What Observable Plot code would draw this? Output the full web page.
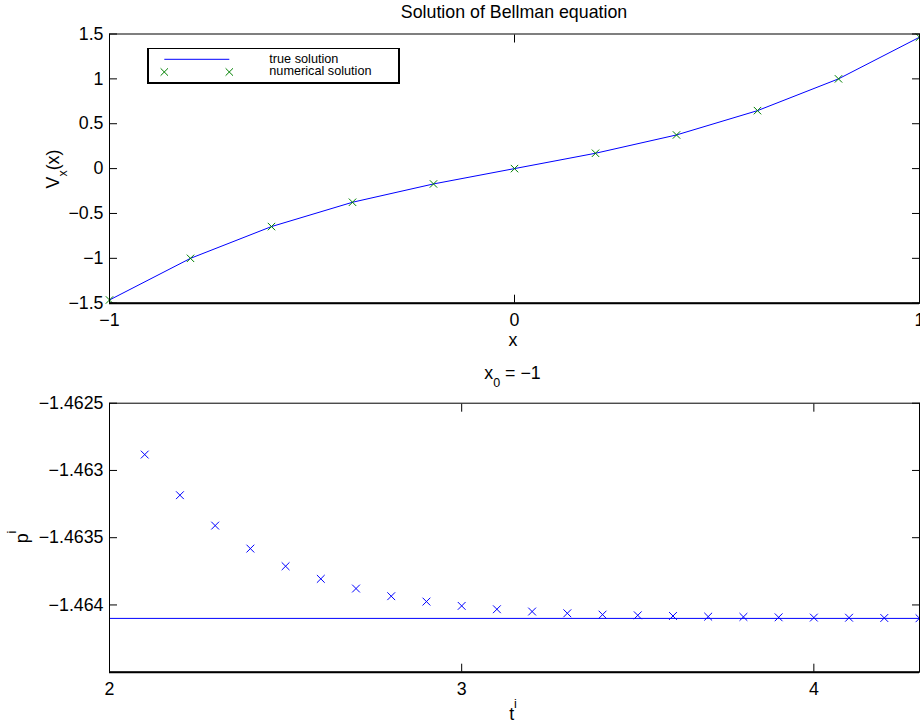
<!DOCTYPE html>
<html>
<head>
<meta charset="utf-8">
<script src="https://cdn.jsdelivr.net/npm/d3@7"></script>
<script src="https://cdn.jsdelivr.net/npm/@observablehq/plot@0.6"></script>
<style>
  body { margin: 0; background: #fff; }
  #wrap { position: relative; width: 920px; height: 723px; overflow: hidden; background: #fff;
          font-family: "Liberation Sans", Arial, Helvetica, sans-serif; color: #000; }
  .lbl { position: absolute; white-space: nowrap; line-height: 1; font-size: 17.8px; }
  .hc { transform: translateX(-50%); }
  .rot { transform: translate(-50%, -50%) rotate(-90deg); }
  .sub { font-size: 12.5px; position: relative; top: 8.3px; }
  .sup { font-size: 12.5px; position: relative; top: -11.7px; }
  .leg { position: absolute; left: 147px; top: 48px; width: 249px; height: 33px; background: #fff;
         border-top: 1px solid #000; border-right: 2px solid #000; border-left: 2px solid #000; border-bottom: 2px solid #000; box-sizing: content-box; }
  .legtxt { position: absolute; white-space: nowrap; line-height: 12px; font-size: 12.7px; }
</style>
</head>
<body>
<div id="wrap">
  <div class="lbl hc" style="left:514px; top:4.4px;">Solution of Bellman equation</div>
  <div class="lbl hc" style="left:513px; top:331.6px;">x</div>
  <div class="lbl rot" style="left:53.8px; top:169px;">V<span class="sub">x</span>(x)</div>
  <div class="lbl hc" style="left:512.5px; top:364.9px;">x<span class="sub">0</span> = −1</div>
  <div class="lbl hc" style="left:513px; top:706.5px; line-height:14px;">t<span class="sup">i</span></div>
  <div class="lbl rot" style="left:23.4px; top:537px;">p<span class="sup">i</span></div>
</div>
<script>
// ---------- data ----------
const xGrid = [-1, -0.8, -0.6, -0.4, -0.2, 0, 0.2, 0.4, 0.6, 0.8, 1];
const vTrue = [-1.4641, -1.0, -0.646, -0.375, -0.171, 0, 0.171, 0.375, 0.646, 1.0, 1.4641];
const vNumerical = [-1.4641, -1.0, -0.646, -0.375, -0.171, 0, 0.171, 0.375, 0.646, 1.0, 1.4641];

const tIter = [2.1, 2.2, 2.3, 2.4, 2.5, 2.6, 2.7, 2.8, 2.9, 3.0, 3.1, 3.2,
               3.3, 3.4, 3.5, 3.6, 3.7, 3.8, 3.9, 4.0, 4.1, 4.2, 4.3];
const pIter = [-1.462882, -1.463184, -1.463410, -1.463581, -1.463712, -1.463806,
               -1.463878, -1.463935, -1.463975, -1.464007, -1.464032, -1.464049,
               -1.464062, -1.464072, -1.464077, -1.464082, -1.464087, -1.464089,
               -1.464092, -1.464094, -1.464095, -1.464097, -1.464099];
const pTrue = -1.4641;

const xTopTicks = [-1, 0, 1];
const xTopTickLabels = ["−1", "0", "1"];
const yTopTicks = [-1.5, -1, -0.5, 0, 0.5, 1, 1.5];
const yTopTickLabels = ["−1.5", "−1", "−0.5", "0", "0.5", "1", "1.5"];
const xBotTicks = [2, 3, 4];
const xBotTickLabels = ["2", "3", "4"];
const yBotTicks = [-1.4625, -1.463, -1.4635, -1.464];
const yBotTickLabels = ["−1.4625", "−1.463", "−1.4635", "−1.464"];

const legendLabels = ["true solution", "numerical solution"];

// ---------- helpers ----------
const BLUE = "#0000ff", GREEN = "#008000";
const cross = {
  draw(ctx, size) {
    const r = Math.sqrt(size / Math.PI);
    ctx.moveTo(-r, -r); ctx.lineTo(r, r);
    ctx.moveTo(-r, r); ctx.lineTo(r, -r);
  }
};
const fmt = (ticks, labels) => { const m = new Map(ticks.map((t, i) => [t, labels[i]])); return d => m.get(d); };
const blank = () => "";

function frameAxes(xTicks, xLabels, yTicks, yLabels, yMin) {
  return [
    Plot.frame({stroke: "black", strokeWidth: 1}),
    Plot.ruleY([yMin], {stroke: "black", strokeWidth: 2}),
    Plot.axisX({anchor: "bottom", ticks: xTicks, tickSize: 8, dy: -8, tickFormat: blank, label: null}),
    Plot.axisX({anchor: "top", ticks: xTicks, tickSize: 8, dy: 8, tickFormat: blank, label: null}),
    Plot.axisY({anchor: "left", ticks: yTicks, tickSize: 8, dx: 8, tickFormat: blank, label: null}),
    Plot.axisY({anchor: "right", ticks: yTicks, tickSize: 8, dx: -8, tickFormat: blank, label: null}),
    Plot.axisX({anchor: "bottom", ticks: xTicks, tickSize: 0, tickPadding: 10, tickFormat: fmt(xTicks, xLabels), label: null}),
    Plot.axisY({anchor: "left", ticks: yTicks, tickSize: 0, tickPadding: 6, tickFormat: fmt(yTicks, yLabels), label: null})
  ];
}

const style = {fontFamily: "'Liberation Sans', Arial, Helvetica, sans-serif", fontSize: "17.8px", background: "transparent"};

// ---------- top plot ----------
const topRows = xGrid.map((x, i) => ({x, vt: vTrue[i], vn: vNumerical[i]}));
const topPlot = Plot.plot({
  width: 920, height: 360,
  marginLeft: 109, marginRight: 1, marginTop: 33.5, marginBottom: 57.3,
  style,
  x: {domain: [-1, 1]},
  y: {domain: [-1.5, 1.5]},
  marks: [
    Plot.line(topRows, {x: "x", y: "vt", stroke: BLUE, strokeWidth: 1}),
    Plot.dot(topRows, {x: "x", y: "vn", symbol: cross, r: 3.7, stroke: GREEN, strokeWidth: 1, fill: "none"}),
    ...frameAxes(xTopTicks, xTopTickLabels, yTopTicks, yTopTickLabels, -1.5)
  ]
});

// ---------- bottom plot ----------
const botRows = tIter.map((t, i) => ({t, p: pIter[i]}));
const botPlot = Plot.plot({
  width: 920, height: 363,
  marginLeft: 109, marginRight: 1, marginTop: 42.7, marginBottom: 51.3,
  style,
  x: {domain: [2, 4.3]},
  y: {domain: [-1.4645, -1.4625]},
  marks: [
    Plot.ruleY([pTrue], {stroke: BLUE, strokeWidth: 1}),
    Plot.dot(botRows, {x: "t", y: "p", symbol: cross, r: 3.9, stroke: BLUE, strokeWidth: 1, fill: "none"}),
    ...frameAxes(xBotTicks, xBotTickLabels, yBotTicks, yBotTickLabels, -1.4645)
  ]
});

const wrap = document.getElementById("wrap");
topPlot.style.position = "absolute"; topPlot.style.left = "0px"; topPlot.style.top = "0px";
botPlot.style.position = "absolute"; botPlot.style.left = "0px"; botPlot.style.top = "360px";
wrap.insertBefore(botPlot, wrap.firstChild);
wrap.insertBefore(topPlot, wrap.firstChild);

// ---------- legend ----------
const leg = document.createElement("div");
leg.className = "leg";
leg.innerHTML = `
  <svg width="120" height="33" style="position:absolute;left:0;top:0;overflow:visible">
    <line x1="15.3" x2="80.3" y1="10.3" y2="10.3" stroke="${BLUE}" stroke-width="1"/>
    <path d="M11.6,19.3L19,26.7M11.6,26.7L19,19.3" stroke="${GREEN}" stroke-width="1" fill="none"/>
    <path d="M76.6,19.3L84,26.7M76.6,26.7L84,19.3" stroke="${GREEN}" stroke-width="1" fill="none"/>
  </svg>
  <div class="legtxt" style="left:120.3px; top:4.3px;">${legendLabels[0]}<br>${legendLabels[1]}</div>`;
wrap.appendChild(leg);
</script>
</body>
</html>
